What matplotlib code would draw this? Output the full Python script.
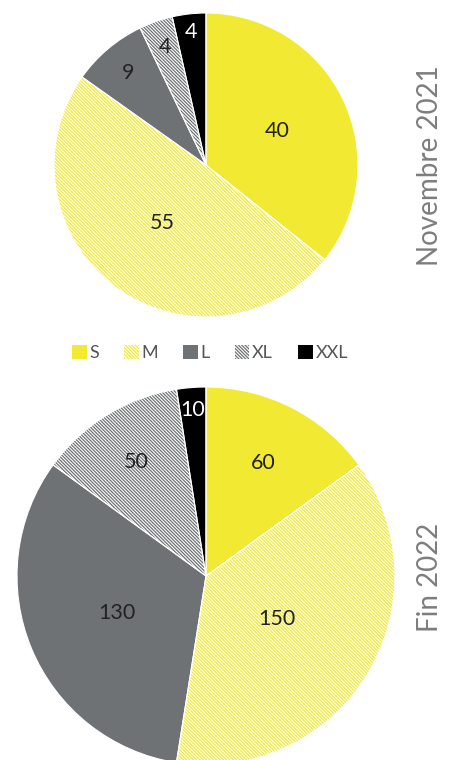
import matplotlib
matplotlib.use("Agg")
import matplotlib.pyplot as plt
from matplotlib.patches import Patch
import numpy as np

categories = ["S", "M", "L", "XL", "XXL"]
values_2021 = [40, 55, 9, 4, 4]
values_2022 = [60, 150, 130, 50, 10]
titles = ["Novembre 2021", "Fin 2022"]

faces = ["#f2e933", "#ffffff", "#6f7275", "#ffffff", "#000000"]
hatch_cols = ["#f2e933", "#f2e933", "#6f7275", "#6f7275", "#000000"]
hatches = [None, "\\" * 10, None, "\\" * 10, None]
text_cols = ["#222222", "#222222", "#222222", "#222222", "#ffffff"]

plt.rcParams["font.family"] = ["Lato", "DejaVu Sans"]
plt.rcParams["hatch.linewidth"] = 0.9

fig = plt.figure(figsize=(4.53, 7.6), dpi=100)

def draw(rect, values, dists, title, ty, tsize):
    ax = fig.add_axes(rect)
    wedges, _ = ax.pie(values, startangle=90, counterclock=False,
                       colors=faces, wedgeprops=dict(linewidth=0))
    for w, h, hc in zip(wedges, hatches, hatch_cols):
        w.set_edgecolor(hc)
        if h:
            w.set_hatch(h)
    ax.pie(values, startangle=90, counterclock=False,
           wedgeprops=dict(fill=False, edgecolor="white", linewidth=0.8))
    for w, v, d, tc in zip(wedges, values, dists, text_cols):
        ang = np.deg2rad((w.theta1 + w.theta2) / 2)
        ax.text(d * np.cos(ang), d * np.sin(ang), str(v), ha="center", va="center",
                fontsize=15.5, color=tc)
    ax.set_xlim(-1, 1)
    ax.set_ylim(-1, 1)
    ax.set_aspect("equal")
    ax.axis("off")
    fig.text(430 / 453, 1 - ty / 760, title, rotation=90, ha="center", va="center",
             fontsize=tsize, color="#7d7d7d")

draw([54 / 453, (760 - 317) / 760, 304 / 453, 304 / 760], values_2021,
     [0.52, 0.48, 0.79, 0.82, 0.88], titles[0], 166, 20)
draw([17 / 453, (760 - 765) / 760, 378 / 453, 378 / 760], values_2022,
     [0.67, 0.44, 0.51, 0.71, 0.88], titles[1], 577, 20)

handles = []
for f, h, hc in zip(faces, hatches, hatch_cols):
    handles.append(Patch(facecolor=f, edgecolor=hc, hatch=h, linewidth=0))
fig.legend(handles, categories, loc="center", bbox_to_anchor=(210 / 453, 1 - 353 / 760),
           ncol=5, frameon=False, handlelength=0.8, handleheight=0.8,
           handletextpad=0.15, columnspacing=1.4, labelcolor="#555555",
           prop=dict(size=13))

fig.savefig("out.png", dpi=100)
